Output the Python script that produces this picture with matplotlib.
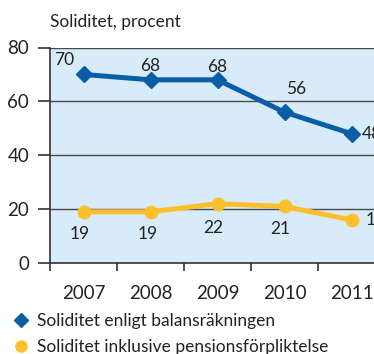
import matplotlib.pyplot as plt
from matplotlib.lines import Line2D

years = ["2007", "2008", "2009", "2010", "2011"]
balans = [70, 68, 68, 56, 48]
pension = [19, 19, 22, 21, 16]
y_ticks = [0, 20, 40, 60, 80]

blue = "#0a5ea8"
yellow = "#fdc02c"
bg = "#d7ebf8"

plt.rcParams["font.family"] = ["Lato", "DejaVu Sans"]

fig = plt.figure(figsize=(3.74, 3.54), dpi=100)
# axes run past the right edge on purpose
ax = fig.add_axes([50 / 374, 91 / 354, 335 / 374, 215.5 / 354])
ax.set_facecolor(bg)

x = list(range(len(years)))
ax.plot(x, balans, color=blue, lw=3.6, marker="D", ms=8, zorder=3)
ax.plot(x, pension, color=yellow, lw=3.6, marker="o", ms=9, zorder=3)

ax.set_xlim(-0.5, 4.5)
ax.set_ylim(0, 80)
ax.set_yticks(y_ticks)
ax.grid(axis="y", color="#4a4a4a", lw=1.0, zorder=1)
ax.set_axisbelow(True)

# category boundaries get the tick marks, labels sit in the middle
ax.set_xticks([i - 0.5 for i in range(len(years) + 1)])
ax.set_xticklabels([])
ax.set_xticks(x, minor=True)
ax.set_xticklabels(years, minor=True)
ax.tick_params(axis="x", which="major", length=6, width=1.2, color="#333333", direction="out")
ax.tick_params(axis="x", which="minor", length=0, pad=16, labelsize=13.5, labelcolor="#222222")
ax.tick_params(axis="y", length=9, width=1.2, color="#333333", pad=6, labelsize=13.5, labelcolor="#222222")

for side in ["top", "right"]:
    ax.spines[side].set_visible(False)
ax.spines["left"].set_color("#333333")
ax.spines["bottom"].set_color("#333333")
ax.spines["left"].set_linewidth(1.2)
ax.spines["bottom"].set_linewidth(1.2)

# value labels
b_off = [(-19, 14), (0, 14), (0, 13), (12, 23), (20, 0)]
for i, v in enumerate(balans):
    ax.annotate(str(v), (x[i], v), textcoords="offset pixels", xytext=b_off[i],
                ha="center", va="center", fontsize=12.5, color="#222222", annotation_clip=False)
p_off = [(-4, -22), (-3, -22), (-4, -24), (-4, -23), (24, 0)]
for i, v in enumerate(pension):
    ax.annotate(str(v), (x[i], v), textcoords="offset pixels", xytext=p_off[i],
                ha="center", va="center", fontsize=12.5, color="#222222", annotation_clip=False)

fig.text(50 / 374, 1 - 22 / 354, "Soliditet, procent", fontsize=12.5, color="#222222",
         ha="left", va="center")

handles = [
    Line2D([], [], color=blue, marker="D", ls="none", ms=7),
    Line2D([], [], color=yellow, marker="o", ls="none", ms=8),
]
labels = ["Soliditet enligt balansräkningen", "Soliditet inklusive pensionsförpliktelse"]
fig.legend(handles, labels, loc="upper left", bbox_to_anchor=(7 / 374, 1 - 306 / 354),
           frameon=False, fontsize=12.5, handlelength=0.8, handletextpad=0.5,
           labelspacing=0.6, borderaxespad=0, labelcolor="#222222")

fig.savefig("out.png", dpi=100)
